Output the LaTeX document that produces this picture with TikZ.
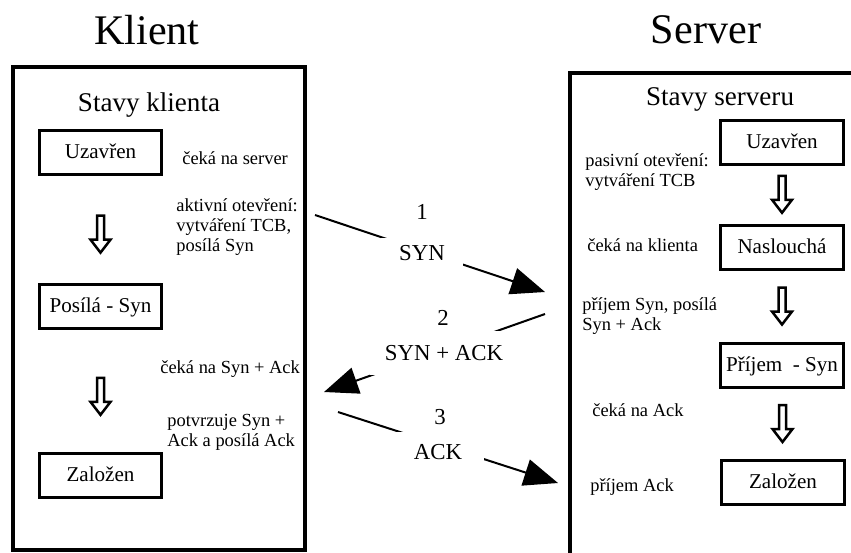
\documentclass[tikz,border=0pt]{standalone}
\usepackage{fontspec}
\setmainfont{Liberation Serif}
\usetikzlibrary{arrows.meta,calc}

% hollow down arrow between two states
\newcommand{\hollowdown}[1]{\draw[line width=0.05cm,line join=miter] (#1)
  ++(-3.5,-19) -- ++(7,0) -- ++(0,24) -- ++(6.5,0) -- ++(-10,13) --
  ++(-10,-13) -- ++(6.5,0) -- cycle;}

\tikzset{
  pane/.style={line width=0.08cm},
  statebox/.style={draw,line width=0.06cm,minimum width=2.45cm,
    minimum height=0.88cm,inner sep=0pt,text height=0.8em,text depth=0.1em,
    font=\fontsize{12}{14}\selectfont},
  note/.style={anchor=west,inner sep=0pt,align=left,
    font=\fontsize{10.5}{11.3}\selectfont},
  msgline/.style={line width=0.04cm,-{Triangle[length=0.68cm,width=0.54cm]}},
  msglabel/.style={fill=white,inner sep=0pt,font=\fontsize{13}{15}\selectfont},
  msgnum/.style={inner sep=0pt,font=\fontsize{13}{15}\selectfont},
  bigtitle/.style={font=\fontsize{24}{28}\selectfont},
  headline/.style={font=\fontsize{15.4}{18}\selectfont}
}

\begin{document}
\begin{tikzpicture}[x=0.02cm,y=-0.02cm]
  \useasboundingbox (0,0) rectangle (851,552); \clip (0,0) rectangle (851,552);
  \node[bigtitle] (klient) at (147,30) {Klient};
  \node[bigtitle] (server) at (706,30) {Server};
  \draw[pane] (13,67) rectangle (305,550); \draw[pane] (570,73) rectangle (900,600);
  \node[headline] (hk) at (149,105) {Stavy klienta};
  \node[headline] (hs) at (720,99) {Stavy serveru};
  % client
  \node[statebox] (kuz) at (100.5,152) {Uzavřen};
  \node[statebox] (kpos) at (100.5,306.5) {Posílá - Syn};
  \node[statebox] (kzal) at (100.5,475) {Založen};
  \hollowdown{$(kuz.south)!.55!(kpos.north)$}
  \hollowdown{$(kpos.south)!.55!(kzal.north)$}
  \node[note] (n1) at (182,158) {čeká na server};
  \node[note] (n2) at (176,227) {aktivní otevření:\\vytváření TCB,\\posílá Syn};
  \node[note] (n3) at (160,369) {čeká na Syn + Ack};
  \node[note] (n4) at (167,432) {potvrzuje Syn +\\Ack a posílá Ack};
  % server
  \node[statebox] (suz) at (782,142) {Uzavřen};
  \node[statebox] (snas) at (782,247.5) {Naslouchá};
  \node[statebox] (sprij) at (782,365.5) {Příjem~ - Syn};
  \node[statebox] (szal) at (783,482.5) {Založen};
  \hollowdown{$(suz.south)!.5!(snas.north)$}
  \hollowdown{$(snas.south)!.5!(sprij.north)$}
  \hollowdown{$(sprij.south)!.5!(szal.north)$}
  \node[note] (n5) at (585,172) {pasivní otevření:\\vytváření TCB};
  \node[note] (n6) at (587,245) {čeká na klienta};
  \node[note] (n7) at (582,316) {příjem Syn, posílá\\Syn + Ack};
  \node[note] (n8) at (592,410) {čeká na Ack};
  \node[note] (n9) at (590,487) {příjem Ack};
  % handshake
  \coordinate (k1) at (315,215); \coordinate (s1) at (545,292);
  \coordinate (s2) at (545,314); \coordinate (k2) at (324,392);
  \coordinate (k3) at (338,412); \coordinate (s3) at (558,483);
  \draw[msgline] (k1) -- (s1); \draw[msgline] (s2) -- (k2); \draw[msgline] (k3) -- (s3);
  \node[msglabel,minimum width=1.64cm,minimum height=0.6cm] (m1) at (422,253) {SYN};
  \node[msglabel,minimum width=2.96cm,minimum height=0.87cm] (m2) at (444,353) {SYN + ACK};
  \node[msglabel,minimum width=1.84cm,minimum height=0.8cm] (m3) at (438,452) {ACK};
  \node[msgnum] (c1) at (422,212) {1}; \node[msgnum] (c2) at (443,318) {2};
  \node[msgnum] (c3) at (440,417) {3};
\end{tikzpicture}
\end{document}
